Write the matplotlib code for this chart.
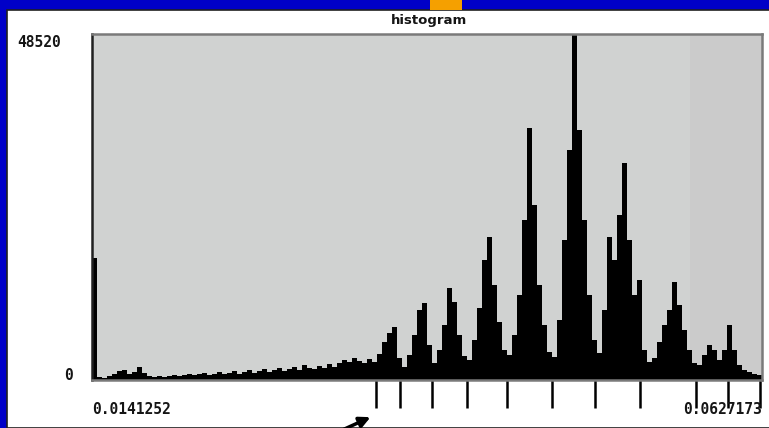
import numpy as np
import matplotlib
matplotlib.use( "Agg" )
import matplotlib.pyplot as plt
from matplotlib.patches import Rectangle

XMIN = 0.0141252
XMAX = 0.0627173
YMAX = 48520

# Counts per bin, evenly spaced bins between XMIN and XMAX
counts = [
    17108, 421, 280, 561, 841, 1262, 1402, 841, 1122, 1823,
    982, 561, 421, 561, 421, 561, 701, 561, 701, 841,
    701, 841, 982, 701, 841, 1122, 841, 982, 1262, 841,
    1122, 1402, 982, 1262, 1543, 1122, 1402, 1683, 1262, 1543,
    1823, 1402, 2103, 1683, 1543, 1963, 1683, 2244, 1823, 2384,
    2805, 2524, 3085, 2664, 2384, 2945, 2524, 3646, 5329, 6591,
    7432, 3085, 1823, 3506, 6310, 9816, 10798, 4908, 2384, 4207,
    7713, 12901, 10938, 6310, 3366, 2805, 5609, 10097, 16828, 20053,
    13322, 8133, 4207, 3506, 6310, 11920, 22437, 35338, 24540, 13322,
    7713, 3926, 3225, 8414, 19632, 32253, 48520, 35058, 22437, 11920,
    5609, 3786, 9816, 20053, 16828, 23138, 30430, 19632, 11920, 14023,
    4207, 2524, 3085, 5329, 7713, 9816, 13743, 10517, 7012, 4207,
    2384, 2103, 3506, 4908, 4207, 2805, 4207, 7713, 4207, 2103,
    1402, 1122, 841, 701,
]

# Markers drawn under the axis, at the valleys between peaks
markers = [0.034722, 0.036463, 0.038784, 0.041322, 0.044223, 0.047487,
           0.050605, 0.053869, 0.057931, 0.060251, 0.062572]

xLabels = ["0.0141252", "0.0627173"]
yLabels = ["48520", "0"]


def drawFrame( fig ):
    # blue window border with a small orange tab on top
    fig.patch.set_facecolor( "#0000c8" )
    fig.add_artist( Rectangle( (7/769, 0), 1, (428-10)/428, transform = fig.transFigure,
        facecolor = "white", edgecolor = "#202020", lw = 1.2, zorder = 0 ) )
    fig.add_artist( Rectangle( (430/769, (428-10)/428), 32/769, 10/428,
        transform = fig.transFigure, facecolor = "#f5a000", edgecolor = "none" ) )


def plotHisto( ax ):
    edges = np.linspace( XMIN, XMAX, len( counts ) + 1 )
    ax.set_facecolor( "#d0d2d1" )
    ax.axvspan( XMIN + 0.8925 * (XMAX - XMIN), XMAX, color = "#cbcbcb", lw = 0, zorder = 0 )
    ax.stairs( counts, edges, fill = True, color = "black", zorder = 2 )
    ax.set_xlim( XMIN, XMAX )
    ax.set_ylim( 0, YMAX )
    ax.set_xticks( [] )
    ax.set_yticks( [] )
    for side in ["top", "right", "bottom"]:
        ax.spines[side].set_color( "#7a7a7a" )
        ax.spines[side].set_linewidth( 1.8 )
    ax.spines["left"].set_color( "#202020" )
    ax.spines["left"].set_linewidth( 1.8 )

    trans = ax.get_xaxis_transform()
    ax.vlines( markers, 0, -0.081, colors = "black", lw = 1.8,
        transform = trans, clip_on = False )

    mono = dict( family = "DejaVu Sans Mono", weight = "bold", fontsize = 10.5, color = "#151515" )
    ax.text( XMIN, -0.085, xLabels[0], ha = "left", va = "center", transform = trans, **mono )
    ax.text( XMAX, -0.085, xLabels[1], ha = "right", va = "center", transform = trans, **mono )
    ax.text( -0.047, 0.975, yLabels[0], ha = "right", va = "center", transform = ax.transAxes, **mono )
    ax.text( -0.029, 0.012, yLabels[1], ha = "right", va = "center", transform = ax.transAxes, **mono )
    ax.text( 0.503, 1.04, "histogram", ha = "center", va = "center", transform = ax.transAxes,
        fontsize = 9.5, weight = "bold", color = "#151515" )


def main():
    fig = plt.figure( figsize = (7.69, 4.28), dpi = 100 )
    drawFrame( fig )
    ax = fig.add_axes( [92/769, (428-380)/428, 670/769, 346/428] )
    plotHisto( ax )
    # pointer arrow near the bottom
    ax.annotate( "", xy = (373, 12), xycoords = "figure pixels",
        xytext = (338, -4), textcoords = "figure pixels",
        arrowprops = dict( arrowstyle = "-|>", color = "black", lw = 2.5, mutation_scale = 16 ),
        annotation_clip = False )
    fig.savefig( "out.png", dpi = 100, facecolor = fig.get_facecolor() )

if __name__ == '__main__':
    main()
